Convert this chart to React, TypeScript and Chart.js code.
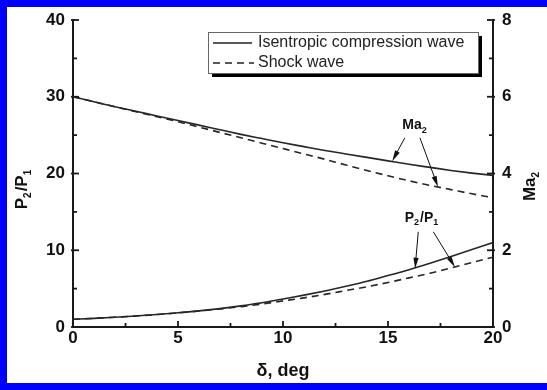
import React, { useEffect, useRef } from "react";
import { Chart, registerables } from "chart.js";

Chart.register(...registerables);

// ---- data ----
const deltaDeg = [0, 1, 2, 3, 4, 5, 6, 7, 8, 9, 10, 11, 12, 13, 14, 15, 16, 17, 18, 19, 20];
const pRatioIsentropic = [1.0, 1.13, 1.28, 1.44, 1.62, 1.85, 2.1, 2.4, 2.75, 3.15, 3.65, 4.15, 4.7, 5.3, 5.95, 6.7, 7.45, 8.3, 9.2, 10.1, 11.0];
const pRatioShock = [1.0, 1.13, 1.28, 1.44, 1.62, 1.85, 2.08, 2.35, 2.65, 3.0, 3.4, 3.8, 4.25, 4.75, 5.25, 5.8, 6.4, 7.0, 7.7, 8.4, 9.1];
const machIsentropic = [6.0, 5.87, 5.74, 5.62, 5.5, 5.38, 5.26, 5.14, 5.02, 4.91, 4.8, 4.7, 4.6, 4.51, 4.42, 4.33, 4.24, 4.16, 4.08, 4.01, 3.95];
const machShock = [6.0, 5.87, 5.74, 5.61, 5.48, 5.35, 5.21, 5.07, 4.93, 4.79, 4.65, 4.51, 4.37, 4.22, 4.08, 3.94, 3.81, 3.69, 3.58, 3.47, 3.37];

const seriesNames = ["Isentropic compression wave", "Shock wave"];
const xTitle = "δ, deg";

// annotation anchors in data units [delta, value]
const machLabelAt = [16.29, 5.26];
const machArrows = [
  [15.8, 4.93, 15.2, 4.32],
  [16.52, 4.93, 17.38, 3.65],
];
const pLabelAt = [16.62, 14.2];
const pArrows = [
  [16.44, 12.4, 16.29, 7.6],
  [17.16, 12.4, 18.19, 7.8],
];

const FONT = '"Liberation Sans", Arial, sans-serif';
const INK = "#1a1a1a";

type Part = { t: string; sub?: boolean };

function drawParts(ctx: CanvasRenderingContext2D, cx: number, cy: number, parts: Part[], size: number, subSize: number) {
  ctx.save();
  ctx.textBaseline = "middle";
  ctx.textAlign = "left";
  let w = 0;
  for (const p of parts) {
    ctx.font = `bold ${p.sub ? subSize : size}px ${FONT}`;
    w += ctx.measureText(p.t).width + (p.sub ? 1 : 0);
  }
  let x = cx - w / 2;
  for (const p of parts) {
    ctx.font = `bold ${p.sub ? subSize : size}px ${FONT}`;
    ctx.fillText(p.t, x, p.sub ? cy + size * 0.35 : cy);
    x += ctx.measureText(p.t).width + (p.sub ? 1 : 0);
  }
  ctx.restore();
}

function arrow(ctx: CanvasRenderingContext2D, x1: number, y1: number, x2: number, y2: number) {
  const a = Math.atan2(y2 - y1, x2 - x1);
  const L = 11, H = 2.6;
  ctx.beginPath();
  ctx.moveTo(x1, y1);
  ctx.lineTo(x2 - Math.cos(a) * L * 0.8, y2 - Math.sin(a) * L * 0.8);
  ctx.stroke();
  ctx.beginPath();
  ctx.moveTo(x2, y2);
  ctx.lineTo(x2 - Math.cos(a) * L - Math.sin(a) * H, y2 - Math.sin(a) * L + Math.cos(a) * H);
  ctx.lineTo(x2 - Math.cos(a) * L + Math.sin(a) * H, y2 - Math.sin(a) * L - Math.cos(a) * H);
  ctx.closePath();
  ctx.fill();
}

const decor = {
  id: "decor",
  beforeDraw(chart: any) {
    const { ctx, width, height } = chart;
    ctx.save();
    ctx.fillStyle = "#ffffff";
    ctx.fillRect(0, 0, width, height);
    ctx.fillStyle = "#0000ff";
    ctx.fillRect(0, 0, width, 7);
    ctx.fillRect(0, height - 7, width, 7);
    ctx.fillRect(0, 0, 7, height);
    ctx.restore();
  },
  afterDraw(chart: any) {
    const { ctx, chartArea } = chart;
    const xs = chart.scales.x, ys = chart.scales.y, ys1 = chart.scales.y1;
    ctx.save();
    ctx.strokeStyle = INK;
    ctx.fillStyle = INK;
    ctx.lineWidth = 1.8;
    // inward ticks
    const xt = xs.ticks.map((t: any) => t.value);
    xt.forEach((v: number, i: number) => {
      const px = xs.getPixelForValue(v);
      ctx.beginPath(); ctx.moveTo(px, chartArea.bottom); ctx.lineTo(px, chartArea.bottom - 6); ctx.stroke();
      if (i < xt.length - 1) {
        const m = xs.getPixelForValue((v + xt[i + 1]) / 2);
        ctx.beginPath(); ctx.moveTo(m, chartArea.bottom); ctx.lineTo(m, chartArea.bottom - 4); ctx.stroke();
      }
    });
    const yt = ys.ticks.map((t: any) => t.value);
    yt.forEach((v: number, i: number) => {
      const py = ys.getPixelForValue(v);
      ctx.beginPath(); ctx.moveTo(chartArea.left - 2, py); ctx.lineTo(chartArea.left + 6, py); ctx.stroke();
      if (i < yt.length - 1) {
        const m = ys.getPixelForValue((v + yt[i + 1]) / 2);
        ctx.beginPath(); ctx.moveTo(chartArea.left, m); ctx.lineTo(chartArea.left + 4, m); ctx.stroke();
      }
    });
    const y1t = ys1.ticks.map((t: any) => t.value);
    y1t.forEach((v: number, i: number) => {
      const py = ys1.getPixelForValue(v);
      ctx.beginPath(); ctx.moveTo(chartArea.right + 2, py); ctx.lineTo(chartArea.right - 6, py); ctx.stroke();
      if (i < y1t.length - 1) {
        const m = ys1.getPixelForValue((v + y1t[i + 1]) / 2);
        ctx.beginPath(); ctx.moveTo(chartArea.right, m); ctx.lineTo(chartArea.right - 4, m); ctx.stroke();
      }
    });

    // axis titles
    ctx.fillStyle = "#111";
    ctx.save();
    ctx.translate(22, 189);
    ctx.rotate(-Math.PI / 2);
    drawParts(ctx, 0, 0, [{ t: "P" }, { t: "2", sub: true }, { t: "/P" }, { t: "1", sub: true }], 17, 10);
    ctx.restore();
    ctx.save();
    ctx.translate(530, 186);
    ctx.rotate(-Math.PI / 2);
    drawParts(ctx, 0, 0, [{ t: "Ma" }, { t: "2", sub: true }], 17, 10);
    ctx.restore();
    ctx.font = `bold 18px ${FONT}`;
    ctx.textAlign = "center";
    ctx.textBaseline = "middle";
    ctx.fillText(xTitle, (chartArea.left + chartArea.right) / 2, 371);

    // annotations
    drawParts(ctx, xs.getPixelForValue(machLabelAt[0]), ys1.getPixelForValue(machLabelAt[1]), [{ t: "Ma" }, { t: "2", sub: true }], 14, 9);
    drawParts(ctx, xs.getPixelForValue(pLabelAt[0]), ys.getPixelForValue(pLabelAt[1]), [{ t: "P" }, { t: "2", sub: true }, { t: "/P" }, { t: "1", sub: true }], 14, 9);
    ctx.lineWidth = 1;
    ctx.strokeStyle = "#111";
    ctx.fillStyle = "#111";
    machArrows.forEach((a) => arrow(ctx, xs.getPixelForValue(a[0]), ys1.getPixelForValue(a[1]), xs.getPixelForValue(a[2]), ys1.getPixelForValue(a[3])));
    pArrows.forEach((a) => arrow(ctx, xs.getPixelForValue(a[0]), ys.getPixelForValue(a[1]), xs.getPixelForValue(a[2]), ys.getPixelForValue(a[3])));

    // legend box
    const bx = 208, by = 32, bw = 270, bh = 41;
    ctx.fillStyle = "#000";
    ctx.fillRect(bx + 4, by + 4, bw, bh);
    ctx.fillStyle = "#fff";
    ctx.fillRect(bx, by, bw, bh);
    ctx.lineWidth = 1;
    ctx.strokeStyle = "#666";
    ctx.strokeRect(bx + 0.5, by + 0.5, bw, bh);
    ctx.strokeStyle = "#222";
    ctx.lineWidth = 1.5;
    ctx.beginPath(); ctx.moveTo(213, 43); ctx.lineTo(252, 43); ctx.stroke();
    ctx.setLineDash([7, 5]);
    ctx.beginPath(); ctx.moveTo(213, 63); ctx.lineTo(254, 63); ctx.stroke();
    ctx.setLineDash([]);
    ctx.fillStyle = "#222";
    ctx.font = `16px ${FONT}`;
    ctx.textAlign = "left";
    ctx.textBaseline = "middle";
    ctx.fillText(seriesNames[0], 258, 43);
    ctx.fillText(seriesNames[1], 258, 63);
    ctx.restore();
  },
};

export default function App() {
  const ref = useRef<HTMLCanvasElement | null>(null);
  useEffect(() => {
    const el = ref.current;
    if (!el) return;
    const mk = (arr: number[]) => deltaDeg.map((d, i) => ({ x: d, y: arr[i] }));
    const line = { borderColor: "#262626", borderWidth: 1.6, pointRadius: 0, cubicInterpolationMode: "monotone" as const, fill: false };
    const tickFont = { family: FONT, size: 17, weight: "bold" as const };
    const chart = new Chart(el, {
      type: "line",
      data: {
        datasets: [
          { label: seriesNames[0], data: mk(pRatioIsentropic), yAxisID: "y", ...line },
          { label: seriesNames[1], data: mk(pRatioShock), yAxisID: "y", ...line, borderDash: [7, 5] },
          { label: seriesNames[0], data: mk(machIsentropic), yAxisID: "y1", ...line },
          { label: seriesNames[1], data: mk(machShock), yAxisID: "y1", ...line, borderDash: [7, 5] },
        ],
      },
      options: {
        animation: false,
        responsive: false,
        devicePixelRatio: 1,
        layout: { padding: { top: 20, left: 0, right: 0, bottom: 0 } },
        plugins: { legend: { display: false }, tooltip: { enabled: false } },
        scales: {
          x: {
            type: "linear",
            min: 0,
            max: 20,
            ticks: { stepSize: 5, font: tickFont, color: "#111", padding: 1, maxRotation: 0 },
            grid: { drawOnChartArea: false, drawTicks: false },
            border: { display: true, color: INK, width: 2 },
            afterFit: (s: any) => { s.height = 63; },
          },
          y: {
            type: "linear",
            position: "left",
            min: 0,
            max: 40,
            ticks: { stepSize: 10, font: tickFont, color: "#111", padding: 8 },
            grid: { drawOnChartArea: false, drawTicks: false },
            border: { display: true, color: INK, width: 2 },
            afterFit: (s: any) => { s.width = 73; },
          },
          y1: {
            type: "linear",
            position: "right",
            min: 0,
            max: 8,
            ticks: { stepSize: 2, font: tickFont, color: "#111", padding: 9 },
            grid: { drawOnChartArea: false, drawTicks: false },
            border: { display: true, color: INK, width: 2 },
            afterFit: (s: any) => { s.width = 54; },
          },
        },
      },
      plugins: [decor],
    });
    return () => chart.destroy();
  }, []);
  return (
    <div style={{ position: "fixed", left: 0, top: 0, width: 547, height: 390, background: "#fff" }}>
      <canvas ref={ref} width={547} height={390} style={{ display: "block" }} />
    </div>
  );
}
